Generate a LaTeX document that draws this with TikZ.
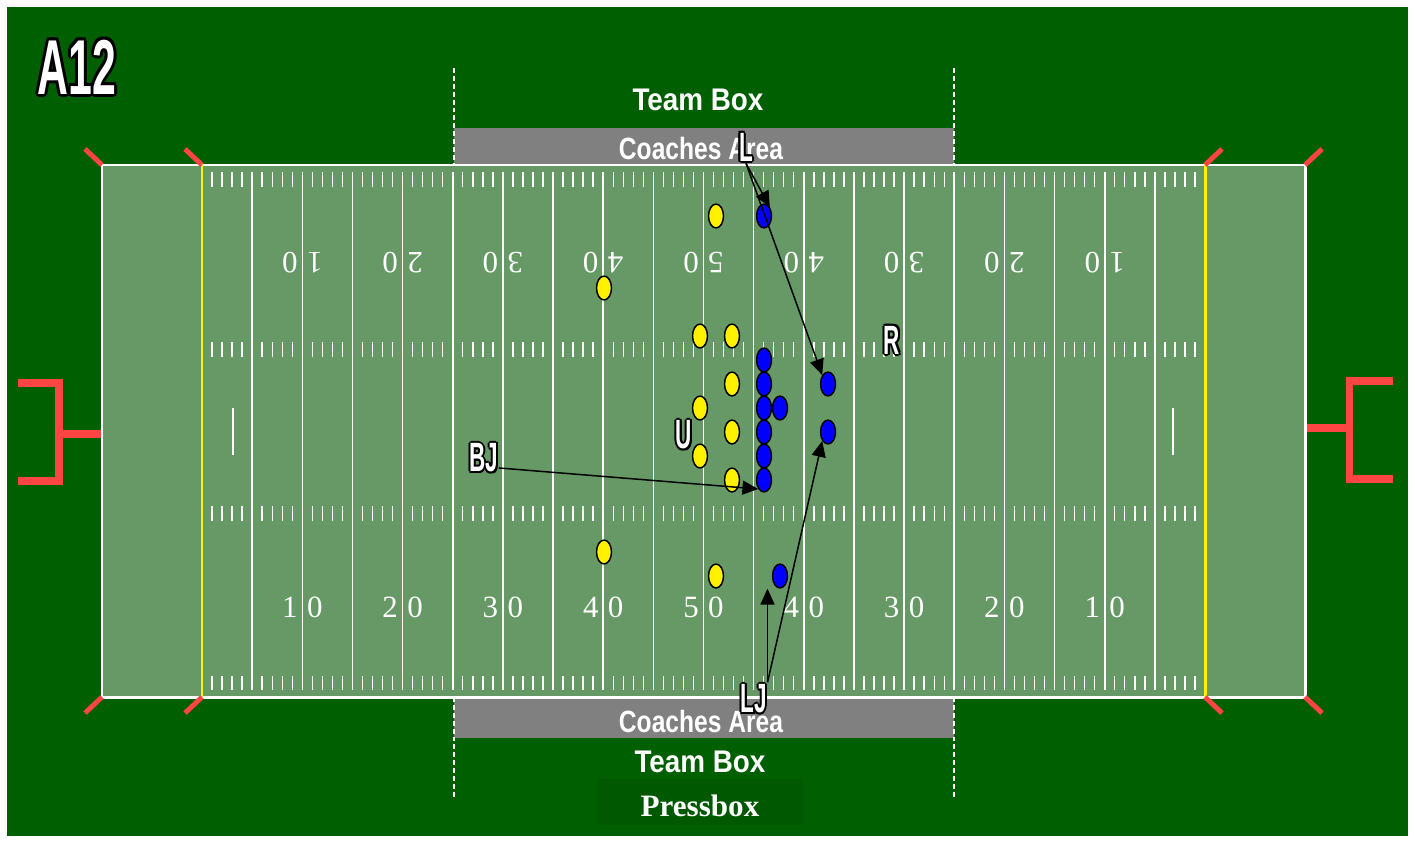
\documentclass[tikz,border=0pt]{standalone}
\usepackage{fontspec}
\usepackage{xcolor}
\usetikzlibrary{arrows.meta,positioning,calc,shapes.geometric}
\setmainfont{Liberation Serif}
\newfontfamily\lblfont{Liberation Sans}[FakeStretch=0.55]
\newfontfamily\coachfont{Liberation Sans}[FakeStretch=0.8]
\newfontfamily\teamfont{Liberation Sans}[FakeStretch=0.89]
\definecolor{turf}{HTML}{005F00}
\definecolor{field}{HTML}{669966}
\definecolor{coach}{HTML}{808080}
\definecolor{post}{HTML}{FF4444}
\definecolor{press}{HTML}{005800}
\newsavebox\outbox
\newcommand{\outlined}[2]{%
  \sbox\outbox{#2}%
  \makebox[\wd\outbox][l]{%
    \foreach \a in {0,45,...,315}{%
      \pgfmathsetlengthmacro\dx{#1*cos(\a)}%
      \pgfmathsetlengthmacro\dy{#1*sin(\a)}%
      \rlap{\kern\dx\raise\dy\hbox{\color{black}#2}}}%
    #2}}

\begin{document}
\begin{tikzpicture}[x=0.02cm, y=-0.02cm,
    yard/.style={draw=white, line width=0.9pt},
    tick/.style={draw=white, line width=0.8pt},
    num/.style={inner sep=0pt, text=white, font=\fontsize{17.6}{18}\selectfont},
    goalpost/.style={draw=post, line width=4pt},
    pylon/.style={draw=post, line width=2.8pt},
    teamtxt/.style={inner sep=0pt, text=white, font=\teamfont\bfseries\fontsize{17.8}{18}\selectfont},
    coachtxt/.style={inner sep=0pt, text=white, font=\coachfont\bfseries\fontsize{17.5}{18}\selectfont},
    lbl/.style={inner sep=0pt, text=white, font=\lblfont\bfseries\fontsize{23.3}{24}\selectfont},
    ypl/.style={ellipse, draw=black, line width=0.85pt, fill=yellow, inner sep=0pt, minimum width=8.5pt, minimum height=13.6pt},
    bpl/.style={ellipse, draw=black, line width=0.85pt, fill=blue, inner sep=0pt, minimum width=8.5pt, minimum height=13.6pt},
    arr/.style={-{Triangle[length=9pt,width=8pt]}, line width=0.85pt, draw=black}]
    \useasboundingbox (0,0) rectangle (1415,842);
    \fill[white] (0,0) rectangle (1415,842);
    \fill[turf] (7,7) rectangle (1408,836);

    % team areas
    \fill[coach] (454,128) rectangle (954,165);
    \fill[coach] (454,697) rectangle (954,738);
    \foreach \x in {454,954}{
      \draw[white, line width=0.6pt, dash pattern=on 2.8pt off 1.7pt] (\x,68) -- (\x,165);
      \draw[white, line width=0.6pt, dash pattern=on 2.8pt off 1.7pt] (\x,697) -- (\x,798);
    }
    \fill[press] (597,779) rectangle (803,825);

    % field
    \fill[field] (102,165) rectangle (1305,697);
    \foreach \i in {1,...,19}
      \draw[yard] ({202+50.15*\i},172) -- ({202+50.15*\i},690);
    \foreach \k in {0,...,19}
      \foreach \j in {1,...,4}
        \foreach \ya/\yb in {172/187,342/357,506/521,676/690}
          \draw[tick] ({202+50.15*\k+10.03*\j},\ya) -- ({202+50.15*\k+10.03*\j},\yb);
    \draw[tick] (233,408) -- (233,455);
    \draw[tick] (1173,408) -- (1173,455);
    \foreach \k/\d in {1/1,2/2,3/3,4/4,5/5,6/4,7/3,8/2,9/1}{
      \node[num] (nb\k) at ({202+100.3*\k},607) {\makebox[14.2pt]{\d}\makebox[14.2pt]{0}};
      \node[num, rotate=180] (nt\k) at ({202+100.3*\k},263) {\makebox[14.2pt]{\d}\makebox[14.2pt]{0}};
    }
    \draw[white, line width=1.7pt] (102,165) rectangle (1305,697);
    \draw[yellow, line width=1.7pt] (202,165) -- (202,697);
    \draw[yellow, line width=1.7pt] (1205,165) -- (1205,697);

    % pylons and goal posts
    \foreach \x/\dx in {102/-17,202/-17,1205/17,1305/17}{
      \draw[pylon] (\x,165) -- ++(\dx,-16);
      \draw[pylon] (\x,697) -- ++(\dx,16);
    }
    \draw[goalpost] (18,383) -- (59,383) -- (59,481) -- (18,481);
    \draw[goalpost] (59,434) -- (101,434);
    \draw[goalpost] (1393,381) -- (1349,381) -- (1349,479) -- (1393,479);
    \draw[goalpost] (1349,428) -- (1307,428);

    % texts
    \node[teamtxt] (tbtop) at (698,100) {Team Box};
    \node[coachtxt] (catop) at (701,149) {Coaches Area};
    \node[coachtxt] (cabot) at (701,721) {Coaches Area};
    \node[teamtxt] (tbbot) at (700,762) {Team Box};
    \node[inner sep=0pt, text=white, font=\bfseries\fontsize{17.7}{18}\selectfont] (press) at (700,806) {Pressbox};
    \node[inner sep=0pt, text=white, font=\lblfont\bfseries\fontsize{44.3}{45}\selectfont] (title) at (77,67) {\outlined{1.8pt}{A12}};

    % players
    \foreach \x/\y [count=\i] in {716/216,604/288,700/336,732/336,732/384,700/408,732/432,700/456,732/480,604/552,716/576}
      \node[ypl] (ypl\i) at (\x,\y) {};
    \foreach \x/\y [count=\i] in {764/216,764/360,764/384,764/408,780/408,764/432,764/456,764/480,828/384,828/432,780/576}
      \node[bpl] (bpl\i) at (\x,\y) {};

    % officials
    \node[lbl] (L) at (746,147) {\outlined{1.1pt}{L}};
    \node[lbl] (R) at (892,340) {\outlined{1.1pt}{R}};
    \node[lbl] (U) at (684,435) {\outlined{1.1pt}{U}};
    \node[lbl] (BJ) at (484,458) {\outlined{1.1pt}{BJ}};
    \node[lbl] (LJ) at (754,699) {\outlined{1.1pt}{LJ}};

    \draw[arr] (L.south) -- (bpl1.north east);
    \draw[arr] (L.south) -- (bpl9.north west);
    \draw[arr] ($(BJ.east)!0.6!(BJ.south east)$) -- (bpl8.south west);
    \draw[arr] (LJ.north east) -- (LJ.north east |- bpl11.south);
    \draw[arr] (LJ.north east) -- (bpl10.south west);
\end{tikzpicture}
\end{document}
